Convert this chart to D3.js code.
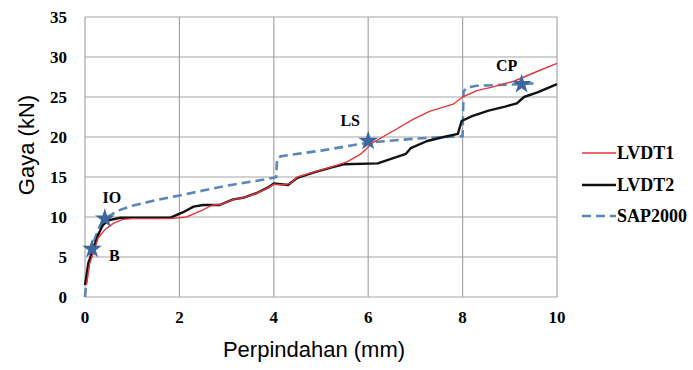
<!DOCTYPE html>
<html>
<head>
<meta charset="utf-8">
<script src="https://cdn.jsdelivr.net/npm/d3@7"></script>
<style>
  body { margin: 0; background: #fff; }
  svg { display: block; }
</style>
</head>
<body>
<svg id="chart"></svg>
<script>
// displacement (mm) vs force (kN)
const lvdt1 = [[0.03,1.5],[0.1,4.2],[0.2,5.9],[0.28,7.4],[0.42,8.4],[0.6,9.2],[0.8,9.7],[1.0,9.8],[1.8,9.8],[2.15,10],[2.5,10.9],[2.7,11.5],[2.9,11.6],[3.15,12.2],[3.35,12.4],[3.65,13],[3.9,13.7],[4.0,14.1],[4.2,14],[4.35,14.2],[4.5,15],[4.9,15.7],[5.25,16.3],[5.55,16.9],[5.85,17.9],[6.1,19.3],[6.6,21.0],[6.95,22.2],[7.3,23.2],[7.8,24.1],[8.0,25.0],[8.3,25.8],[8.6,26.2],[9.1,27.0],[9.5,28.0],[10,29.2]];
const lvdt2 = [[0,1.5],[0.07,4.2],[0.17,5.9],[0.28,7.8],[0.38,9],[0.5,9.6],[0.75,9.9],[1.8,9.9],[2.08,10.6],[2.3,11.3],[2.5,11.5],[2.85,11.5],[3.14,12.2],[3.35,12.4],[3.64,13],[3.88,13.7],[4.0,14.2],[4.3,14],[4.5,14.9],[4.87,15.6],[5.23,16.2],[5.5,16.6],[6.2,16.7],[6.5,17.3],[6.8,17.9],[6.9,18.6],[7.25,19.5],[7.6,20],[7.9,20.4],[7.98,22.0],[8.2,22.6],[8.55,23.3],[8.9,23.8],[9.15,24.2],[9.3,25],[9.6,25.6],[10,26.6]];
const sap2000 = [[0,0],[0.05,3],[0.1,5],[0.15,6],[0.22,7.5],[0.3,8.7],[0.42,9.8],[0.7,10.8],[1,11.4],[1.5,12.1],[2,12.7],[2.5,13.3],[3,13.9],[3.5,14.4],[4,14.9],[4.05,15],[4.07,17.3],[4.15,17.6],[5,18.3],[6,19.3],[7,19.8],[8,20.1],[8.02,25.7],[8.1,26.2],[8.3,26.4],[9.2,26.6],[9.5,26.7]];

// performance points
const perfNames = ["B", "IO", "LS", "CP"];
const perfX = [0.15, 0.42, 6.0, 9.25];
const perfY = [6.0, 9.8, 19.5, 26.6];

const xTicks = [0, 2, 4, 6, 8, 10];
const yTicks = [0, 5, 10, 15, 20, 25, 30, 35];
const legendNames = ["LVDT1", "LVDT2", "SAP2000"];

const width = 693, height = 370;
const margin = {left: 85, top: 17, right: 136, bottom: 73};
const w = width - margin.left - margin.right;
const h = height - margin.top - margin.bottom;

const svg = d3.select("#chart").attr("width", width).attr("height", height);

const x = d3.scaleLinear().domain([0, 10]).range([0, w]);
const y = d3.scaleLinear().domain([0, 35]).range([h, 0]);

const g = svg.append("g").attr("transform", `translate(${margin.left},${margin.top})`);

// grid
g.append("g").selectAll("line").data(yTicks).enter().append("line")
  .attr("x1", 0).attr("x2", w)
  .attr("y1", d => y(d)).attr("y2", d => y(d))
  .style("stroke", "#a6a6a6").style("stroke-width", 1.2);
g.append("g").selectAll("line").data(xTicks).enter().append("line")
  .attr("x1", d => x(d)).attr("x2", d => x(d))
  .attr("y1", 0).attr("y2", h)
  .style("stroke", "#a6a6a6").style("stroke-width", 1.2);

const tickFont = "'Liberation Serif', 'Times New Roman', serif";

// tick labels
g.append("g").selectAll("text").data(yTicks).enter().append("text")
  .attr("x", -18).attr("y", d => y(d)).attr("dy", "0.35em")
  .attr("text-anchor", "end")
  .style("font-family", tickFont).style("font-weight", "bold").style("font-size", "17px")
  .text(d => d);
g.append("g").selectAll("text").data(xTicks).enter().append("text")
  .attr("x", d => x(d)).attr("y", h + 26)
  .attr("text-anchor", "middle")
  .style("font-family", tickFont).style("font-weight", "bold").style("font-size", "17px")
  .text(d => d);

// axis titles
svg.append("text")
  .attr("x", margin.left + w / 2 - 7).attr("y", 357)
  .attr("text-anchor", "middle")
  .style("font-family", "'Liberation Sans', Arial, sans-serif").style("font-size", "22px")
  .text("Perpindahan (mm)");
svg.append("text")
  .attr("transform", "translate(34,145) rotate(-90)")
  .attr("text-anchor", "middle")
  .style("font-family", "'Liberation Sans', Arial, sans-serif").style("font-size", "22px")
  .text("Gaya (kN)");

const line = d3.line().x(d => x(d[0])).y(d => y(d[1]));

g.append("path").datum(sap2000).attr("d", line)
  .style("fill", "none").style("stroke", "#5b86b8").style("stroke-width", 2.6)
  .style("stroke-dasharray", "9,5");
g.append("path").datum(lvdt2).attr("d", line)
  .style("fill", "none").style("stroke", "#111").style("stroke-width", 2.4)
  .style("stroke-linejoin", "round");
g.append("path").datum(lvdt1).attr("d", line)
  .style("fill", "none").style("stroke", "#e8353b").style("stroke-width", 1.4)
  .style("stroke-linejoin", "round");

// stars and their labels
const star = d3.symbol().type(d3.symbolStar).size(120);
const labelOffsets = [[17, 6], [7, -21], [-18, -21], [-15, -19]];
perfNames.forEach((name, i) => {
  g.append("path").attr("d", star)
    .attr("transform", `translate(${x(perfX[i])},${y(perfY[i])})`)
    .style("fill", "#3c679c");
  g.append("text")
    .attr("x", x(perfX[i]) + labelOffsets[i][0])
    .attr("y", y(perfY[i]) + labelOffsets[i][1])
    .attr("dy", "0.35em")
    .attr("text-anchor", i === 0 ? "start" : "middle")
    .style("font-family", tickFont).style("font-weight", "bold").style("font-size", "16px")
    .text(name);
});

// legend
const legendY = [153, 185, 216];
const legendColors = ["#e8353b", "#111", "#5b86b8"];
const legendWidths = [1.6, 2.4, 2.6];
const leg = svg.append("g");
legendNames.forEach((name, i) => {
  leg.append("line")
    .attr("x1", 582).attr("x2", 616)
    .attr("y1", legendY[i]).attr("y2", legendY[i])
    .style("stroke", legendColors[i]).style("stroke-width", legendWidths[i])
    .style("stroke-dasharray", i === 2 ? "9,5" : null);
  leg.append("text")
    .attr("x", 617).attr("y", legendY[i]).attr("dy", "0.35em")
    .style("font-family", tickFont).style("font-weight", "bold").style("font-size", "18px")
    .text(name);
});
</script>
</body>
</html>
